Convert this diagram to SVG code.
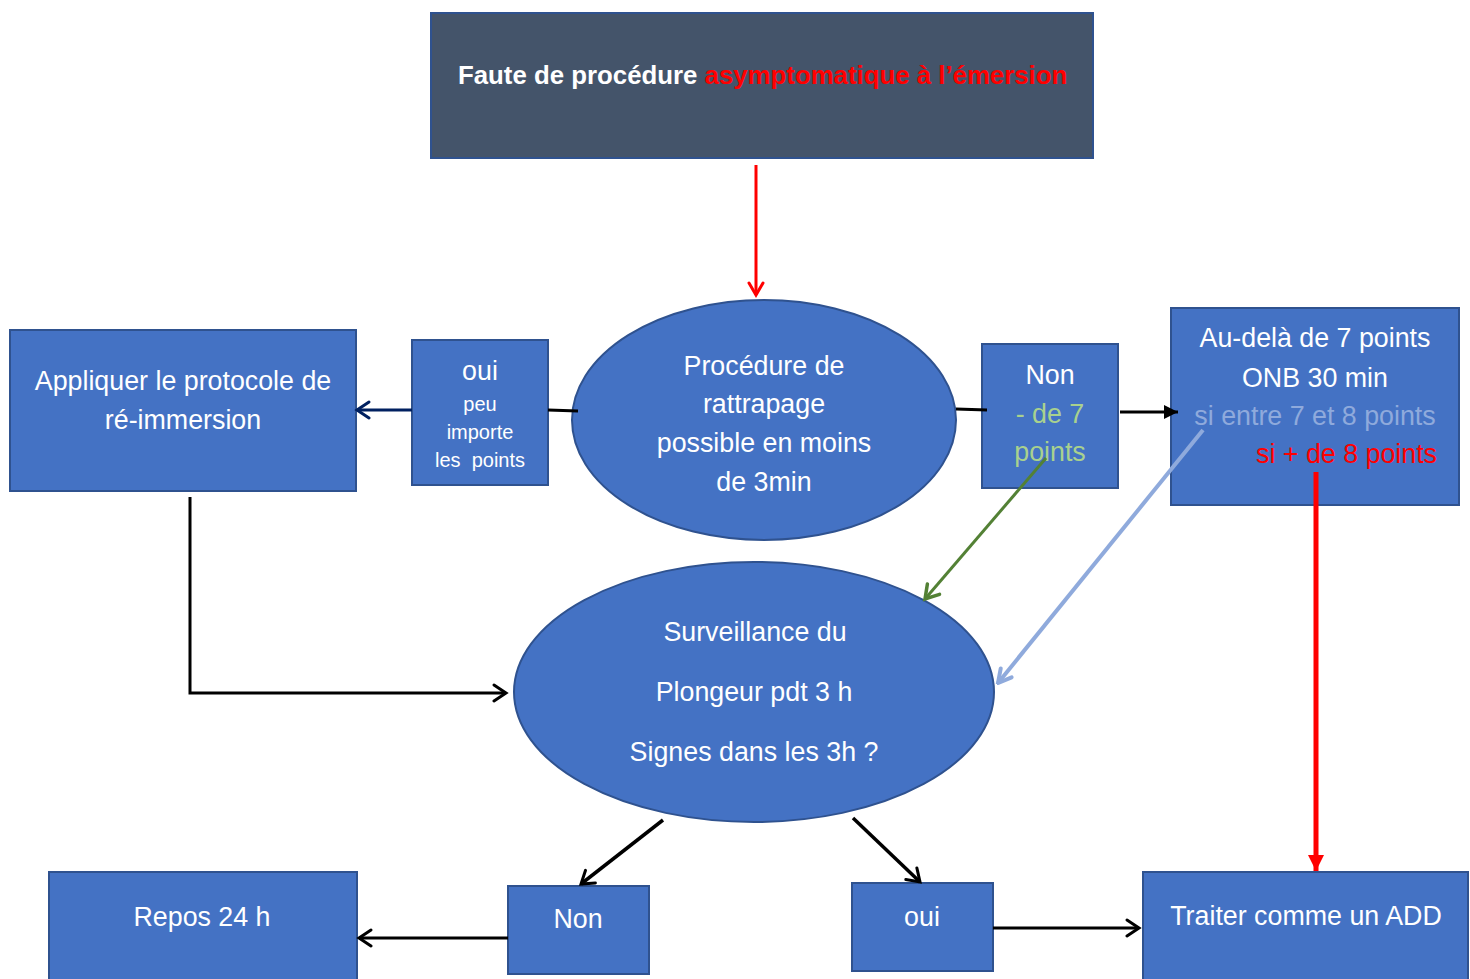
<svg xmlns="http://www.w3.org/2000/svg" width="1470" height="979" viewBox="0 0 1470 979">
<style>
.box{fill:#4472C4;stroke:#2F528F;stroke-width:2}
.dark{fill:#44546A;stroke:#2F528F;stroke-width:2}
text{font-family:"Liberation Sans",Arial,sans-serif;fill:#FFFFFF}
.t{font-size:26.8px;text-anchor:middle}
.s{font-size:20px;text-anchor:middle}
text.g{fill:#A9D18E}
text.lb{fill:#8FAADC}
text.r, tspan.r{fill:#FF0000}
.ln{fill:none;stroke-linecap:butt}
</style>
<defs>
<marker id="ob" viewBox="-16 -10 20 20" markerWidth="20" markerHeight="20" refX="0" refY="0" orient="auto" markerUnits="userSpaceOnUse">
<path d="M-12,-8 L0,0 L-12,8" fill="none" stroke="#000" stroke-width="3" stroke-linecap="round"/>
</marker>
<marker id="or" viewBox="-16 -10 20 20" markerWidth="20" markerHeight="20" refX="0" refY="0" orient="auto" markerUnits="userSpaceOnUse">
<path d="M-12,-7 L0,0 L-12,7" fill="none" stroke="#FF0000" stroke-width="3" stroke-linecap="round"/>
</marker>
<marker id="on" viewBox="-16 -10 20 20" markerWidth="20" markerHeight="20" refX="0" refY="0" orient="auto" markerUnits="userSpaceOnUse">
<path d="M-12,-8 L0,0 L-12,8" fill="none" stroke="#002060" stroke-width="3" stroke-linecap="round"/>
</marker>
<marker id="og" viewBox="-16 -10 20 20" markerWidth="20" markerHeight="20" refX="0" refY="0" orient="auto" markerUnits="userSpaceOnUse">
<path d="M-13,-8 L0,0 L-13,8" fill="none" stroke="#538135" stroke-width="3.5" stroke-linecap="round"/>
</marker>
<marker id="ol" viewBox="-18 -10 20 20" markerWidth="20" markerHeight="20" refX="0" refY="0" orient="auto" markerUnits="userSpaceOnUse">
<path d="M-13,-7 L0,0 L-13,7" fill="none" stroke="#8FAADC" stroke-width="4" stroke-linecap="round"/>
</marker>
<marker id="fb" viewBox="-16 -10 20 20" markerWidth="20" markerHeight="20" refX="0" refY="0" orient="auto" markerUnits="userSpaceOnUse">
<path d="M-14,-7 L0,0 L-14,7 Z" fill="#000"/>
</marker>
<marker id="fr" viewBox="-18 -10 20 20" markerWidth="20" markerHeight="20" refX="0" refY="0" orient="auto" markerUnits="userSpaceOnUse">
<path d="M-16,-8 L0,0 L-16,8 Z" fill="#FF0000"/>
</marker>
</defs>

<g id="n-title">
<rect class="dark" x="431" y="13" width="662" height="145"/>
<text x="458" y="84" style="font-size:25.8px;font-weight:bold"><tspan>Faute de procédure </tspan><tspan class="r">asymptomatique à l’émersion</tspan></text>
</g>

<g id="n-procedure">
<ellipse class="box" cx="764" cy="420" rx="192" ry="120"/>
<text class="t" x="764" y="375">Procédure de</text>
<text class="t" x="764" y="413">rattrapage</text>
<text class="t" x="764" y="452">possible en moins</text>
<text class="t" x="764" y="491">de 3min</text>
</g>

<g id="n-oui1">
<rect class="box" x="412" y="340" width="136" height="145"/>
<text class="t" x="480" y="380">oui</text>
<text class="s" x="480" y="411">peu</text>
<text class="s" x="480" y="439">importe</text>
<text class="s" x="480" y="467" xml:space="preserve">les  points</text>
</g>

<g id="n-protocole">
<rect class="box" x="10" y="330" width="346" height="161"/>
<text class="t" x="183" y="390">Appliquer le protocole de</text>
<text class="t" x="183" y="429">ré-immersion</text>
</g>

<g id="n-non1">
<rect class="box" x="982" y="344" width="136" height="144"/>
<text class="t" x="1050" y="384">Non</text>
<text class="t g" x="1050" y="423">- de 7</text>
<text class="t g" x="1050" y="461">points</text>
</g>

<g id="n-audela">
<rect class="box" x="1171" y="308" width="288" height="197"/>
<text class="t" x="1315" y="347">Au-delà de 7 points</text>
<text class="t" x="1315" y="387">ONB 30 min</text>
<text class="t lb" x="1315" y="425">si entre 7 et 8 points</text>
<text class="r" x="1437" y="463" style="font-size:26.8px;text-anchor:end">si + de 8 points</text>
</g>

<g id="n-surveillance">
<ellipse class="box" cx="754" cy="692" rx="240" ry="130"/>
<text class="t" x="755" y="641">Surveillance du</text>
<text class="t" x="754" y="701">Plongeur pdt 3 h</text>
<text class="t" x="754" y="761">Signes dans les 3h ?</text>
</g>

<g id="n-non2">
<rect class="box" x="508" y="886" width="141" height="88"/>
<text class="t" x="578" y="928">Non</text>
</g>

<g id="n-oui2">
<rect class="box" x="852" y="883" width="141" height="88"/>
<text class="t" x="922" y="926">oui</text>
</g>

<g id="n-repos">
<rect class="box" x="49" y="872" width="308" height="120"/>
<text class="t" x="202" y="926">Repos 24 h</text>
</g>

<g id="n-traiter">
<rect class="box" x="1143" y="872" width="325" height="120"/>
<text class="t" x="1306" y="925">Traiter comme un ADD</text>
</g>

<g id="connectors">
<line class="ln" x1="756" y1="165" x2="756" y2="295" stroke="#FF0000" stroke-width="3" marker-end="url(#or)"/>
<line class="ln" x1="548" y1="410" x2="578" y2="411" stroke="#000" stroke-width="3"/>
<line class="ln" x1="412" y1="410" x2="357" y2="410" stroke="#002060" stroke-width="3" marker-end="url(#on)"/>
<line class="ln" x1="956" y1="409" x2="987" y2="410" stroke="#000" stroke-width="3"/>
<line class="ln" x1="1120" y1="412" x2="1178" y2="412" stroke="#000" stroke-width="3" marker-end="url(#fb)"/>
<line class="ln" x1="1316" y1="472" x2="1316" y2="871" stroke="#FF0000" stroke-width="5" marker-end="url(#fr)"/>
<line class="ln" x1="1046" y1="458" x2="925" y2="599" stroke="#538135" stroke-width="3" marker-end="url(#og)"/>
<line class="ln" x1="1203" y1="430" x2="998" y2="683" stroke="#8FAADC" stroke-width="4" marker-end="url(#ol)"/>
<polyline class="ln" points="190,497 190,693 506,693" stroke="#000" stroke-width="3" marker-end="url(#ob)"/>
<line class="ln" x1="663" y1="820" x2="581" y2="884" stroke="#000" stroke-width="3.5" marker-end="url(#ob)"/>
<line class="ln" x1="853" y1="818" x2="920" y2="882" stroke="#000" stroke-width="3.5" marker-end="url(#ob)"/>
<line class="ln" x1="508" y1="938" x2="359" y2="938" stroke="#000" stroke-width="3" marker-end="url(#ob)"/>
<line class="ln" x1="993" y1="928" x2="1139" y2="928" stroke="#000" stroke-width="3" marker-end="url(#ob)"/>
</g>
</svg>
